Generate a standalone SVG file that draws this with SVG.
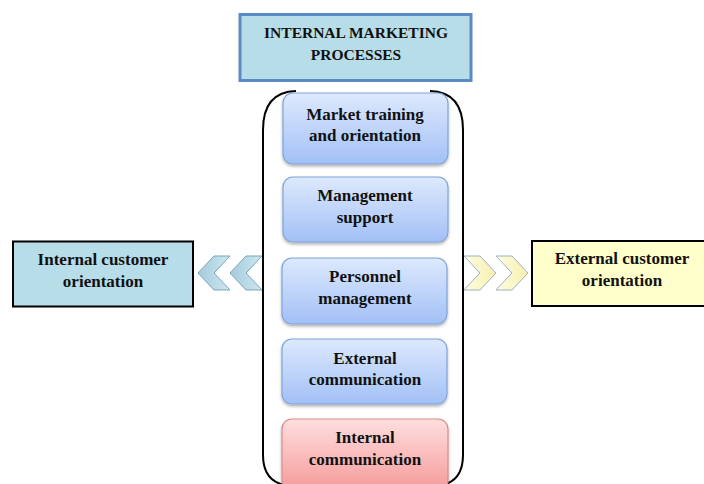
<svg xmlns="http://www.w3.org/2000/svg" width="704" height="484" viewBox="0 0 704 484">
<defs>
<linearGradient id="gb" x1="0" y1="0" x2="0" y2="1"><stop offset="0" stop-color="#dde9fd"/><stop offset="1" stop-color="#a2c0f6"/></linearGradient>
<linearGradient id="gr" x1="0" y1="0" x2="0" y2="1"><stop offset="0" stop-color="#ffdede"/><stop offset="1" stop-color="#f59a9a"/></linearGradient>
<linearGradient id="gc" x1="0" y1="0" x2="1" y2="0"><stop offset="0" stop-color="#a2cbdb"/><stop offset="1" stop-color="#cfe8f0"/></linearGradient>
<linearGradient id="gy" x1="0" y1="0" x2="1" y2="0"><stop offset="0" stop-color="#fffde0"/><stop offset="1" stop-color="#f5f0b0"/></linearGradient>
<filter id="sh" x="-10%" y="-10%" width="120%" height="130%"><feDropShadow dx="0" dy="2" stdDeviation="1.5" flood-color="#000" flood-opacity="0.3"/></filter>
</defs>
<style>
text{font-family:"Liberation Serif","DejaVu Serif",serif;font-weight:bold;font-size:17px;fill:#111;text-anchor:middle}
.t{font-size:15.5px}
.b{fill:url(#gb);stroke:#7ea3d9;stroke-width:1.2}
.r{fill:url(#gr);stroke:#d98a8a;stroke-width:1.2}
.cl{fill:url(#gc);stroke:#7aa2bd;stroke-width:1}
.cr{fill:url(#gy);stroke:#9fb0c4;stroke-width:1}
</style>
<rect width="704" height="484" fill="#fff"/>
<g id="title">
<rect x="240" y="14.5" width="231" height="66" fill="#b7dde8" stroke="#5a8ac6" stroke-width="3"/>
<text class="t" x="356" y="38">INTERNAL MARKETING</text>
<text class="t" x="356" y="60">PROCESSES</text>
</g>
<g id="container">
<path d="M296,91 Q263,92 263,130 L263,455 Q263,486 295,486 L432,486 Q463,486 463,455 L463,130 Q463,92 430,91" fill="none" stroke="#000" stroke-width="2"/>
</g>
<g id="n1"><rect class="b" x="283" y="93" width="165" height="71" rx="10" filter="url(#sh)"/><text x="365" y="120">Market training</text><text x="365" y="141">and orientation</text></g>
<g id="n2"><rect class="b" x="283" y="177" width="165" height="65" rx="10" filter="url(#sh)"/><text x="365" y="201">Management</text><text x="365" y="223">support</text></g>
<g id="n3"><rect class="b" x="282" y="258" width="165" height="66" rx="10" filter="url(#sh)"/><text x="365" y="282">Personnel</text><text x="365" y="304">management</text></g>
<g id="n4"><rect class="b" x="282" y="339" width="165" height="65" rx="10" filter="url(#sh)"/><text x="365" y="364">External</text><text x="365" y="385">communication</text></g>
<g id="n5"><rect class="r" x="282" y="419" width="166" height="72" rx="10" filter="url(#sh)"/><text x="365" y="443">Internal</text><text x="365" y="465">communication</text></g>
<g id="left">
<rect x="13" y="241.5" width="180" height="65" fill="#b7dde8" stroke="#000" stroke-width="2"/>
<text x="103" y="265">Internal customer</text>
<text x="103" y="287">orientation</text>
</g>
<g id="right">
<rect x="532" y="241" width="180" height="65" fill="#ffffcc" stroke="#000" stroke-width="2"/>
<text x="622" y="264">External customer</text>
<text x="622" y="286">orientation</text>
</g>
<g id="connectors">
<polygon class="cl" points="198,273 214,256 230,256 214,273 230,290 214,290"/>
<polygon class="cl" points="230,273 246,256 262,256 246,273 262,290 246,290"/>
<polygon class="cr" points="464,256 480,256 496,273 480,290 464,290 480,273"/>
<polygon class="cr" points="496,256 512,256 528,273 512,290 496,290 512,273"/>
</g>
</svg>
